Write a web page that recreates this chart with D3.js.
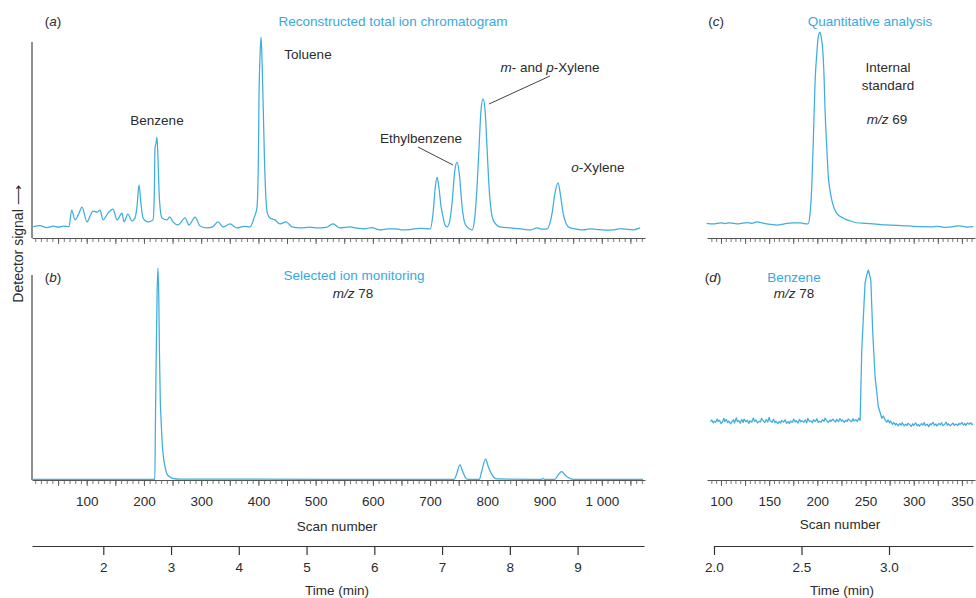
<!DOCTYPE html>
<html>
<head>
<meta charset="utf-8">
<script src="https://cdn.jsdelivr.net/npm/d3@7"></script>
<style>
  body { margin: 0; background: #fff; }
  svg { font-family: "Liberation Sans", Arial, sans-serif; }
</style>
</head>
<body>
<div id="chart"></div>
<script>
"use strict";

// ---------- data ----------
// (a) reconstructed total ion chromatogram: [scan, signal %]
const ticTrace = [
  [6, 5.6], [18, 6.1], [30, 5.2], [42, 5.9], [50, 5.4], [60, 5.9], [69, 5.6], [73.8, 13.9], [79.5, 9.0], [86, 12], [91.8, 15.4],
  [100.5, 8.0], [106, 11], [111, 13.4], [118, 12.9], [123.2, 13.9], [128.5, 9.0], [137.2, 12.4],
  [146, 14.4], [153, 9.0], [161.7, 12.4], [165.2, 8.0], [172, 11.9], [179, 8.5], [184.4, 10.0],
  [188, 16], [191.4, 26.4], [194.5, 18], [198.4, 10.0], [207, 8.0], [215.8, 9.0], [218, 20],
  [219.3, 44.8], [221, 47], [222.8, 50.2], [224.5, 40], [226.3, 23.9], [229, 13], [231.6, 10.0],
  [240.3, 9.0], [245, 10.5], [250.8, 8.0], [259.5, 6.5], [271.8, 10.0], [278.8, 6.5],
  [289.3, 10.4], [298, 6.0], [310, 5.0], [320, 5.5], [329.4, 8.0], [338.2, 5.5], [350.4, 7.0],
  [362.6, 5.0], [375, 5.8], [385.4, 5.5], [392.4, 10.0], [397.6, 15.4], [400, 40], [401, 68.7],
  [403, 92], [404.6, 100], [406, 92], [408, 70.1], [410.5, 40], [413.3, 18.9], [416, 12],
  [420.3, 10.0], [429, 9.0], [437.8, 7.0], [448.3, 8.0], [458.8, 5.5], [472.8, 5.0], [490, 5.4],
  [502.4, 5.0], [518, 5.3], [530.4, 7.0], [542.6, 5.0], [560, 5.5], [572, 4.9], [585, 4.6], [598, 5.1], [612.4, 4.0],
  [626, 4.5], [640, 4.6], [652, 4.0], [665, 4.2], [675, 4.7], [685, 4.8], [700, 4.5], [705.2, 12.4], [709, 25], [712.2, 30.3],
  [715.5, 25], [719, 16], [722.7, 10.4], [726, 6.5], [729.6, 5.5], [734, 8], [738.4, 17.4],
  [743, 33], [747.1, 37.8], [751, 32], [756, 15.4], [760, 8], [764.6, 5.5], [769, 4.5],
  [773.4, 4.0], [778, 10], [782, 25.4], [786, 48], [789, 63.7], [792.5, 69.2], [796, 63.7],
  [799.5, 45], [803, 25.4], [807, 13], [811.8, 8.0], [822.3, 5.5], [839.8, 5.0], [858, 4.6],
  [874.7, 4.0], [887, 5.0], [896, 4.4], [904.4, 4.5], [909, 7], [913.2, 12.4], [918, 22],
  [923.6, 27.4], [928, 21], [932.4, 12.4], [938, 7], [944.7, 5.0], [956, 4.4], [967.4, 4.0],
  [980, 4.5], [990, 4.3], [1005, 3.9], [1019.8, 4.0], [1030, 4.6], [1040, 4.4], [1055, 4.1], [1067, 5.0]
];

// (b) selected ion monitoring m/z 78: [scan, signal %]
const simTrace = [
  [5, 0.3], [100, 0.3], [219, 0.3], [220, 25], [221.5, 60], [223, 88], [224.5, 100], [226, 85],
  [227, 62], [228.5, 38], [230, 28], [232, 17], [234, 11], [237, 6], [240, 3], [245, 1.5],
  [250, 0.8], [263, 0.4], [742, 0.3], [746, 2.5], [752, 7.1], [757, 4], [762, 1], [766, 0.3],
  [786, 0.3], [790, 4], [797, 9.8], [802, 6], [808, 2.5], [816, 0.5], [895, 0.3], [897, 0.8],
  [900, 0.3], [918, 0.3], [924, 2.5], [930, 3.9], [937, 2], [944, 0.8], [950, 0.3], [1072, 0.3]
];

// (c) internal standard m/z 69: [scan, signal %]
const istdTrace = [
  [85.2, 7.1], [92, 6.8], [100, 7.4], [104, 7.0], [109.3, 7.4], [118, 6.9], [127, 7.5], [132, 7.1], [137, 7.8], [146, 7.0],
  [152, 6.6], [157.8, 6.3], [166, 6.9], [174, 7.4], [182, 7.4], [186, 7.0], [190.3, 6.8], [192.5, 12], [194.2, 24.9],
  [196, 50], [197.6, 75.2], [199.5, 90], [201, 97.7], [202.8, 100], [204.2, 97], [205.6, 91.3],
  [207, 78], [208, 62.1], [209.8, 44], [211.4, 29.8], [213.2, 23], [215, 18.4], [220, 12.1],
  [227, 9.6], [234, 8.3], [241, 7.4], [250, 7.1], [258, 6.8], [266, 6.5], [275.5, 6.3], [284, 6.1], [292, 5.9], [300, 5.7], [309.8, 5.5],
  [318, 5.4], [325, 5.7], [333, 5.2], [340, 5.4], [345, 5.9], [350, 5.8], [356, 5.3], [361.7, 5.5]
];

// (d) benzene m/z 78: [scan, signal %]
const benzTrace = [
  [89, 27.8], [90.5, 28.6], [92, 27.2], [93, 28.0], [94.5, 27.5], [96, 29.1], [97, 27.9], [98.5, 28.4],
  [100, 26.9], [101.5, 27.6], [103, 29.4], [104, 27.8], [105.5, 28.9], [107, 27.3], [108, 28.1],
  [110, 26.7], [111.5, 27.9], [113, 28.7], [114, 27.1], [116, 29.6], [117, 27.8], [118.5, 28.3],
  [120, 27.0], [121.5, 28.8], [123, 27.4], [124, 29.0], [126, 27.7], [127.5, 28.5], [129, 26.9],
  [130, 28.2], [132, 27.5], [133.5, 29.5], [135, 27.9], [136, 28.6], [138, 27.2], [139.5, 28.0],
  [141, 27.6], [142, 29.3], [144, 28.1], [145.5, 27.4], [147, 28.8], [148.5, 27.6], [150, 29.8],
  [151, 28.2], [153, 27.5], [154.5, 28.9], [156, 27.3], [157, 28.0], [159, 26.8], [160.5, 27.9],
  [162, 27.1], [163, 28.4], [165, 27.6], [166.5, 28.7], [168, 27.0], [169.5, 27.8], [171, 26.9],
  [172, 28.1], [174, 27.4], [175.5, 29.0], [177, 27.6], [178, 28.3], [180, 27.1], [181.5, 28.9],
  [183, 27.7], [184, 28.2], [186, 27.5], [187.5, 28.6], [189, 27.2], [190, 29.4], [192, 27.8],
  [193.5, 28.1], [195, 27.3], [196, 28.7], [198, 27.9], [199.5, 29.2], [201, 27.4], [202, 28.0],
  [204, 27.5], [205.5, 28.8], [207, 27.9], [208, 29.5], [210, 28.1], [211.5, 27.4], [213, 28.6],
  [214, 27.9], [216, 29.0], [217.5, 28.2], [219, 27.6], [220, 28.9], [222, 27.8], [223.5, 29.3],
  [225, 28.0], [226, 28.6], [228, 27.4], [229.5, 28.5], [231, 27.9], [232, 29.1], [234, 28.3],
  [235.5, 27.7], [237, 29.2], [238, 28.1], [240, 28.8], [241.5, 27.9], [243, 29.4], [244.4, 28.4],
  [246.1, 61.9], [249.5, 93.8], [251.5, 98], [253, 100], [255.5, 95.2], [257.5, 70], [259.9, 49.2],
  [263.3, 34.9], [266.9, 29.4], [268.5, 30.5], [270.3, 28.6], [272, 27.5], [273.5, 28.6], [275, 27.2],
  [276, 28.1], [278, 26.5], [279.5, 27.4], [281, 26.2], [282, 27.0], [284, 25.8], [285.5, 26.9],
  [287, 26.1], [288, 27.3], [290, 25.7], [291.5, 26.6], [293, 25.9], [294, 27.0], [296, 26.3],
  [297.5, 25.5], [299, 26.8], [300, 26.0], [302, 27.2], [303.5, 25.8], [305, 26.5], [306, 25.6],
  [308, 26.9], [309.5, 26.1], [311, 27.4], [312, 25.9], [314, 26.6], [315.5, 25.4], [317, 26.8],
  [318, 26.2], [320, 27.5], [321.5, 26.0], [323, 26.7], [324, 25.7], [326, 26.9], [327.5, 26.3],
  [329, 27.3], [330, 25.9], [332, 26.4], [333.5, 27.6], [335, 26.1], [336, 26.8], [338, 25.8],
  [339.5, 26.6], [341, 27.1], [342, 26.0], [344, 26.7], [345.5, 25.9], [347, 27.0], [348, 26.4],
  [350, 27.4], [351.5, 26.2], [353, 26.9], [354, 26.0], [356, 27.2], [357.5, 26.5], [359, 27.3],
  [360.5, 26.4], [361.7, 26.8]
];

// axis ticks
const scanTicksLeft = [100, 200, 300, 400, 500, 600, 700, 800, 900, 1000];
const scanLabelsLeft = ["100", "200", "300", "400", "500", "600", "700", "800", "900", "1 000"];
const timeTicksLeft = [2, 3, 4, 5, 6, 7, 8, 9];
const scanTicksRight = [100, 150, 200, 250, 300, 350];
const timeTicksRight = [2.0, 2.5, 3.0];
const timeLabelsRight = ["2.0", "2.5", "3.0"];

// ---------- drawing ----------
const W = 976, H = 598;
const traceColor = "#3eaddf";
const titleColor = "#37a9de";
const textColor = "#2b2b2b";
const axisColor = "#555";

const svg = d3.select("#chart").append("svg").attr("width", W).attr("height", H);

// scales
const xScanL = d3.scaleLinear().domain([4.4, 1075.5]).range([32, 645]);
const xTimeL = d3.scaleLinear().domain([0.948, 9.98]).range([32, 644]);
const xScanR = d3.scaleLinear().domain([85.5, 363.6]).range([707, 975]);
const xTimeR = d3.scaleLinear().domain([2.0, 3.48]).range([714, 973]);

const yA = d3.scaleLinear().domain([0, 100]).range([238, 37]);
const yB = d3.scaleLinear().domain([0, 100]).range([480, 268]);
const yC = d3.scaleLinear().domain([0, 100]).range([238, 32]);
const yD = d3.scaleLinear().domain([0, 100]).range([480, 270]);

const drawTrace = (data, x, y, curve) => {
  svg.append("path")
    .datum(data)
    .attr("fill", "none")
    .attr("stroke", traceColor)
    .attr("stroke-width", 1.25)
    .attr("stroke-linejoin", "round")
    .attr("d", d3.line().x((d) => x(d[0])).y((d) => y(d[1])).curve(curve));
};

// scan-number tick axis: minor + major ticks, optional labels
const scanAxis = (x, yPos, minorStep, majorStep, labelTicks, labelFmt) => {
  const [d0, d1] = x.domain();
  const minor = d3.range(Math.ceil(d0 / minorStep) * minorStep, d1, minorStep);
  const major = minor.filter((v) => Math.abs(v / majorStep - Math.round(v / majorStep)) < 1e-6);

  const gMinor = svg.append("g")
    .attr("transform", `translate(0,${yPos})`)
    .call(d3.axisBottom(x).tickValues(minor).tickSize(4).tickSizeOuter(0).tickFormat(""));
  gMinor.select(".domain").attr("stroke", axisColor).attr("stroke-width", 1);
  gMinor.selectAll(".tick line").attr("stroke", axisColor).attr("stroke-width", 0.8);

  const gMajor = svg.append("g")
    .attr("transform", `translate(0,${yPos})`)
    .call(d3.axisBottom(x).tickValues(major).tickSize(6).tickFormat(""));
  gMajor.select(".domain").remove();
  gMajor.selectAll(".tick line").attr("stroke", axisColor).attr("stroke-width", 0.9);

  if (labelTicks) {
    const gLab = svg.append("g")
      .attr("transform", `translate(0,${yPos})`)
      .call(d3.axisBottom(x).tickValues(labelTicks).tickSize(0).tickPadding(16).tickFormat(labelFmt));
    gLab.select(".domain").remove();
    gLab.selectAll("text")
      .attr("font-size", "13.5px")
      .attr("font-family", "Liberation Sans, Arial, sans-serif")
      .attr("fill", textColor);
  }
};

const timeAxis = (x, yPos, ticks, fmt) => {
  const g = svg.append("g")
    .attr("transform", `translate(0,${yPos})`)
    .call(d3.axisBottom(x).tickValues(ticks).tickSize(9).tickSizeOuter(0).tickPadding(7).tickFormat(fmt));
  g.select(".domain").attr("stroke", "#333").attr("stroke-width", 1.2);
  g.selectAll(".tick line").attr("stroke", "#333").attr("stroke-width", 1.2);
  g.selectAll("text")
    .attr("font-size", "13.5px")
    .attr("font-family", "Liberation Sans, Arial, sans-serif")
    .attr("fill", textColor);
};

// vertical signal axes of (a) and (b)
svg.append("line").attr("x1", 32).attr("x2", 32).attr("y1", 42).attr("y2", yA(0))
  .attr("stroke", "#6a6a6a").attr("stroke-width", 1.5);
svg.append("line").attr("x1", 32).attr("x2", 32).attr("y1", 275).attr("y2", yB(0))
  .attr("stroke", "#6a6a6a").attr("stroke-width", 1.5);

// traces
drawTrace(ticTrace, xScanL, yA, d3.curveMonotoneX);
drawTrace(simTrace, xScanL, yB, d3.curveMonotoneX);
drawTrace(istdTrace, xScanR, yC, d3.curveMonotoneX);
drawTrace(benzTrace, xScanR, yD, d3.curveLinear);

// axes
scanAxis(xScanL, 238, 10, 50, null, null);
scanAxis(xScanL, 480, 10, 50, scanTicksLeft, (d) => scanLabelsLeft[scanTicksLeft.indexOf(d)]);
scanAxis(xScanR, 238, 5, 25, null, null);
scanAxis(xScanR, 480, 5, 25, scanTicksRight, (d) => String(d));
timeAxis(xTimeL, 546, timeTicksLeft, (d) => String(d));
timeAxis(xTimeR, 546, timeTicksRight, (d) => timeLabelsRight[timeTicksRight.indexOf(d)]);

// ---------- text ----------
// parts: [text, italic?]
const label = (x, y, parts, color, anchor) => {
  const t = svg.append("text")
    .attr("x", x)
    .attr("y", y)
    .attr("text-anchor", anchor || "middle")
    .attr("dominant-baseline", "central")
    .attr("font-size", "13.5px")
    .attr("fill", color || textColor);
  parts.forEach((p) => {
    t.append("tspan").attr("font-style", p[1] ? "italic" : "normal").text(p[0]);
  });
  return t;
};

label(53, 21, [["(", 0], ["a", 1], [")", 0]]);
label(393, 21, [["Reconstructed total ion chromatogram", 0]], titleColor);
label(157, 120, [["Benzene", 0]]);
label(308, 54, [["Toluene", 0]]);
label(421, 138, [["Ethylbenzene", 0]]);
label(550, 67, [["m", 1], ["- and ", 0], ["p", 1], ["-Xylene", 0]]);
label(598, 167, [["o", 1], ["-Xylene", 0]]);

label(716, 21, [["(", 0], ["c", 1], [")", 0]]);
label(870, 21, [["Quantitative analysis", 0]], titleColor);
label(888, 67, [["Internal", 0]]);
label(888, 85, [["standard", 0]]);
label(887, 119, [["m/z", 1], [" 69", 0]]);

label(53, 277, [["(", 0], ["b", 1], [")", 0]]);
label(354, 275, [["Selected ion monitoring", 0]], titleColor);
label(353, 293, [["m/z", 1], [" 78", 0]]);

label(713, 277, [["(", 0], ["d", 1], [")", 0]]);
label(794, 277, [["Benzene", 0]], titleColor);
label(794, 293, [["m/z", 1], [" 78", 0]]);

label(337, 526, [["Scan number", 0]]);
label(840, 524, [["Scan number", 0]]);
label(337, 590, [["Time (min)", 0]]);
label(842, 590, [["Time (min)", 0]]);

// leader lines
svg.append("line").attr("x1", 418).attr("y1", 147).attr("x2", 453).attr("y2", 165)
  .attr("stroke", "#444").attr("stroke-width", 1);
svg.append("line").attr("x1", 550).attr("y1", 76).attr("x2", 489).attr("y2", 104)
  .attr("stroke", "#444").attr("stroke-width", 1);

// y label
label(0, 0, [["Detector signal \u27F6", 0]])
  .attr("font-size", "14px")
  .attr("transform", "translate(18,244) rotate(-90)");
</script>
</body>
</html>
